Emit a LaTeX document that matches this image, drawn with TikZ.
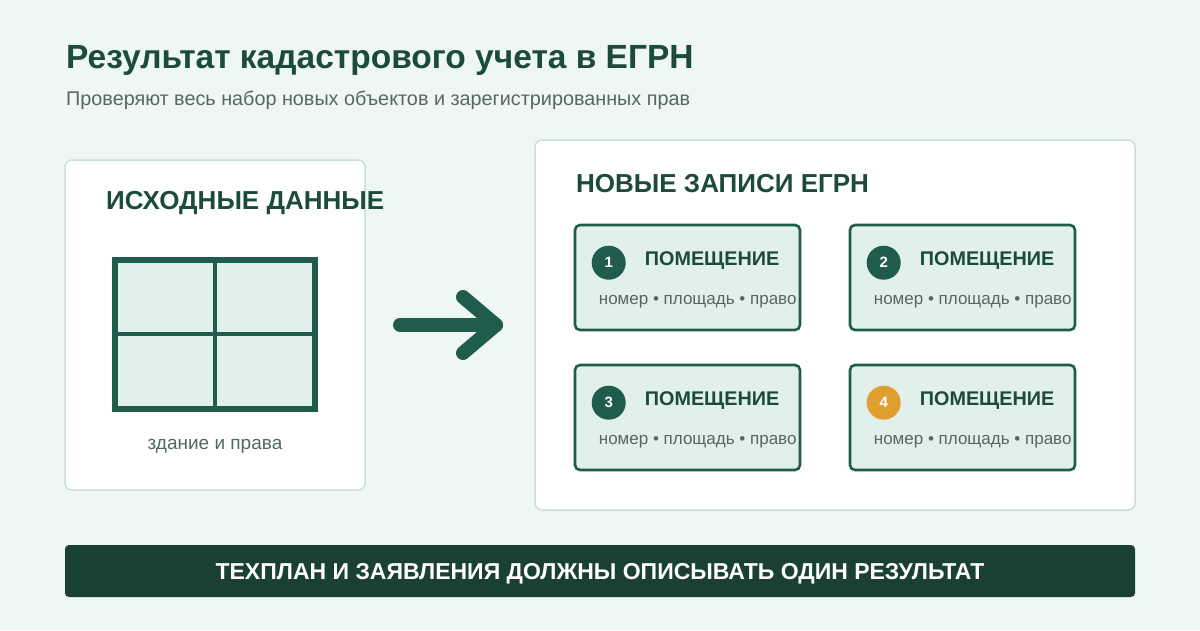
\documentclass[tikz,border=0pt]{standalone}
\usepackage{fontspec}
\setmainfont{Liberation Sans}
\usepackage{tikz}
\definecolor{egbg}{HTML}{EEF7F3}
\definecolor{egdark}{HTML}{1C4A3C}
\definecolor{egline}{HTML}{1F5C4B}
\definecolor{eggrey}{HTML}{55685F}
\definecolor{egedge}{HTML}{CCDFD6}
\definecolor{egcell}{HTML}{E1F0EA}
\definecolor{egbar}{HTML}{1A4036}
\definecolor{eggold}{HTML}{E0A030}

\begin{document}
\begin{tikzpicture}[x=1pt, y=-1pt,
  panel/.style={draw=egedge, line width=1.5pt, fill=white, rounded corners=7pt},
  card/.style={draw=egline, line width=2.6pt, fill=egcell, rounded corners=5pt, minimum width=225pt, minimum height=105pt, inner sep=0pt},
  badge/.style={circle, fill=egline, minimum size=34pt, inner sep=0pt, text=white, font=\fontsize{15}{17}\selectfont\bfseries},
  cardtitle/.style={anchor=west, inner sep=0pt, text=egdark, font=\fontsize{19.8}{23}\selectfont\bfseries},
  cardtext/.style={anchor=west, inner sep=0pt, text=eggrey, font=\fontsize{17}{20}\selectfont},
  head/.style={anchor=west, inner sep=0pt, text=egdark, font=\fontsize{26}{30}\selectfont\bfseries}]
  \fill[egbg] (0,0) rectangle (1200,630);
  \useasboundingbox (0,0) rectangle (1200,630);

  % title
  \node[anchor=base west, inner sep=0pt, text=egdark, font=\fontsize{33.5}{38}\selectfont\bfseries] (title) at (66,68) {Результат кадастрового учета в ЕГРН};
  \node[anchor=west, inner sep=0pt, text=eggrey, font=\fontsize{19.8}{23}\selectfont] (subtitle) at (66,100) {Проверяют весь набор новых объектов и зарегистрированных прав};

  % left panel
  \draw[panel] (65,160) rectangle (365,490);
  \node[head] (srchead) at (106,203) {ИСХОДНЫЕ ДАННЫЕ};
  \fill[egcell] (115,260) rectangle (315,409);
  \draw[egline, line width=4pt] (215,260) -- (215,409) (115,334) -- (315,334);
  \draw[egline, line width=6pt] (115,260) rectangle (315,409);
  \node[inner sep=0pt, text=eggrey, font=\fontsize{19}{22}\selectfont] (srctext) at (215,446) {здание и права};

  % arrow
  \coordinate (arrA) at (400,325);
  \coordinate (arrB) at (496,325);
  \draw[egline, line width=14pt, line cap=round] (arrA) -- (arrB);
  \draw[egline, line width=14pt, line cap=round, line join=round] (463,297) -- (arrB) -- (463,353);

  % right panel
  \draw[panel] (535,140) rectangle (1135,510);
  \node[head] (newhead) at (576,184) {НОВЫЕ ЗАПИСИ ЕГРН};

  \node[card] (c1) at (687.5,277.5) {};
  \node[card] (c2) at (962.5,277.5) {};
  \node[card] (c3) at (687.5,417.5) {};
  \node[card] (c4) at (962.5,417.5) {};

  \node[badge] (b1) at ([xshift=35pt, yshift=-39pt]c1.north west) {1};
  \node[badge] (b2) at ([xshift=35pt, yshift=-39pt]c2.north west) {2};
  \node[badge] (b3) at ([xshift=35pt, yshift=-39pt]c3.north west) {3};
  \node[badge, fill=eggold] (b4) at ([xshift=35pt, yshift=-39pt]c4.north west) {4};

  \node[cardtitle] (t1) at ([xshift=71pt, yshift=-37pt]c1.north west) {ПОМЕЩЕНИЕ};
  \node[cardtitle] (t2) at ([xshift=71pt, yshift=-37pt]c2.north west) {ПОМЕЩЕНИЕ};
  \node[cardtitle] (t3) at ([xshift=71pt, yshift=-37pt]c3.north west) {ПОМЕЩЕНИЕ};
  \node[cardtitle] (t4) at ([xshift=71pt, yshift=-37pt]c4.north west) {ПОМЕЩЕНИЕ};

  \node[cardtext] (d1) at ([xshift=25pt, yshift=-78pt]c1.north west) {номер • площадь • право};
  \node[cardtext] (d2) at ([xshift=25pt, yshift=-78pt]c2.north west) {номер • площадь • право};
  \node[cardtext] (d3) at ([xshift=25pt, yshift=-78pt]c3.north west) {номер • площадь • право};
  \node[cardtext] (d4) at ([xshift=25pt, yshift=-78pt]c4.north west) {номер • площадь • право};

  % bottom banner
  \fill[egbar, rounded corners=4pt] (65,545) rectangle (1135,597);
  \node[inner sep=0pt, text=white, font=\fontsize{23}{26}\selectfont\bfseries] (banner) at (600,574) {ТЕХПЛАН И ЗАЯВЛЕНИЯ ДОЛЖНЫ ОПИСЫВАТЬ ОДИН РЕЗУЛЬТАТ};
\end{tikzpicture}
\end{document}
